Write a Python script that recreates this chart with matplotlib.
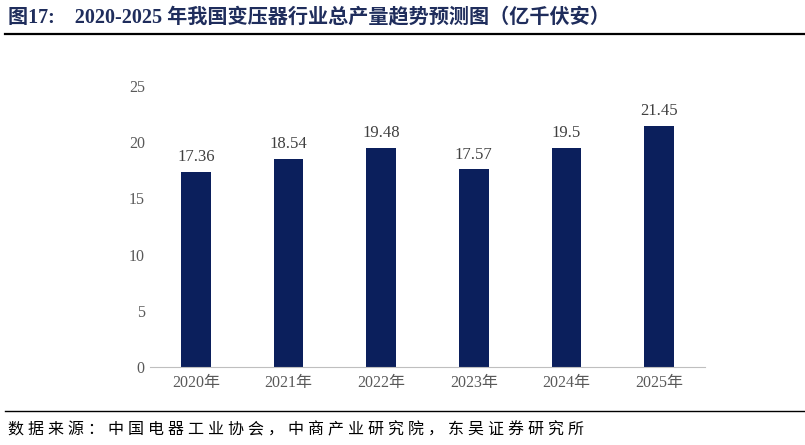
import matplotlib
matplotlib.use("Agg")
import matplotlib.pyplot as plt

years = ["2020年", "2021年", "2022年", "2023年", "2024年", "2025年"]
values = [17.36, 18.54, 19.48, 17.57, 19.5, 21.45]
labels = ["17.36", "18.54", "19.48", "17.57", "19.5", "21.45"]
yticks = [0, 5, 10, 15, 20, 25]

plt.rcParams['font.family'] = ['Liberation Serif', 'Noto Sans CJK SC']
fig = plt.figure(figsize=(8.05, 4.45), dpi=100)
ax = fig.add_axes([0.186, 0.175, 0.69, 0.632])
x = range(len(years))
ax.bar(x, values, width=0.32, color="#0b1f5c")
for xi, v, l in zip(x, values, labels):
    ax.text(xi, v + 0.6, l, ha="center", va="bottom", fontsize=12, color="#404040")
ax.set_ylim(0, 25)
ax.set_yticks(yticks)
ax.set_xlim(-0.5, 5.5)
ax.set_xticks(list(x))
ax.set_xticklabels(years)
ax.tick_params(axis="both", length=0, labelsize=11.5, colors="#595959")
ax.tick_params(axis="x", pad=6)
for s in ["top", "right", "left"]:
    ax.spines[s].set_visible(False)
ax.spines["bottom"].set_color("#bfbfbf")

fig.text(0.01, 0.962, "图17:    2020-2025 年我国变压器行业总产量趋势预测图（亿千伏安）",
         fontsize=14.5, fontweight="bold", color="#1f2d5c", va="center")
fig.add_artist(plt.Line2D([0.006, 1], [0.923, 0.923], color="#000000", lw=1.6))
fig.add_artist(plt.Line2D([0.006, 1], [0.076, 0.076], color="#000000", lw=1.0))
fig.text(0.01, 0.033, "数 据 来 源 ： 中 国 电 器 工 业 协 会 ， 中 商 产 业 研 究 院 ， 东 吴 证 券 研 究 所",
         fontsize=11.5, color="#000000", va="center")
fig.savefig("out.png", dpi=100)
